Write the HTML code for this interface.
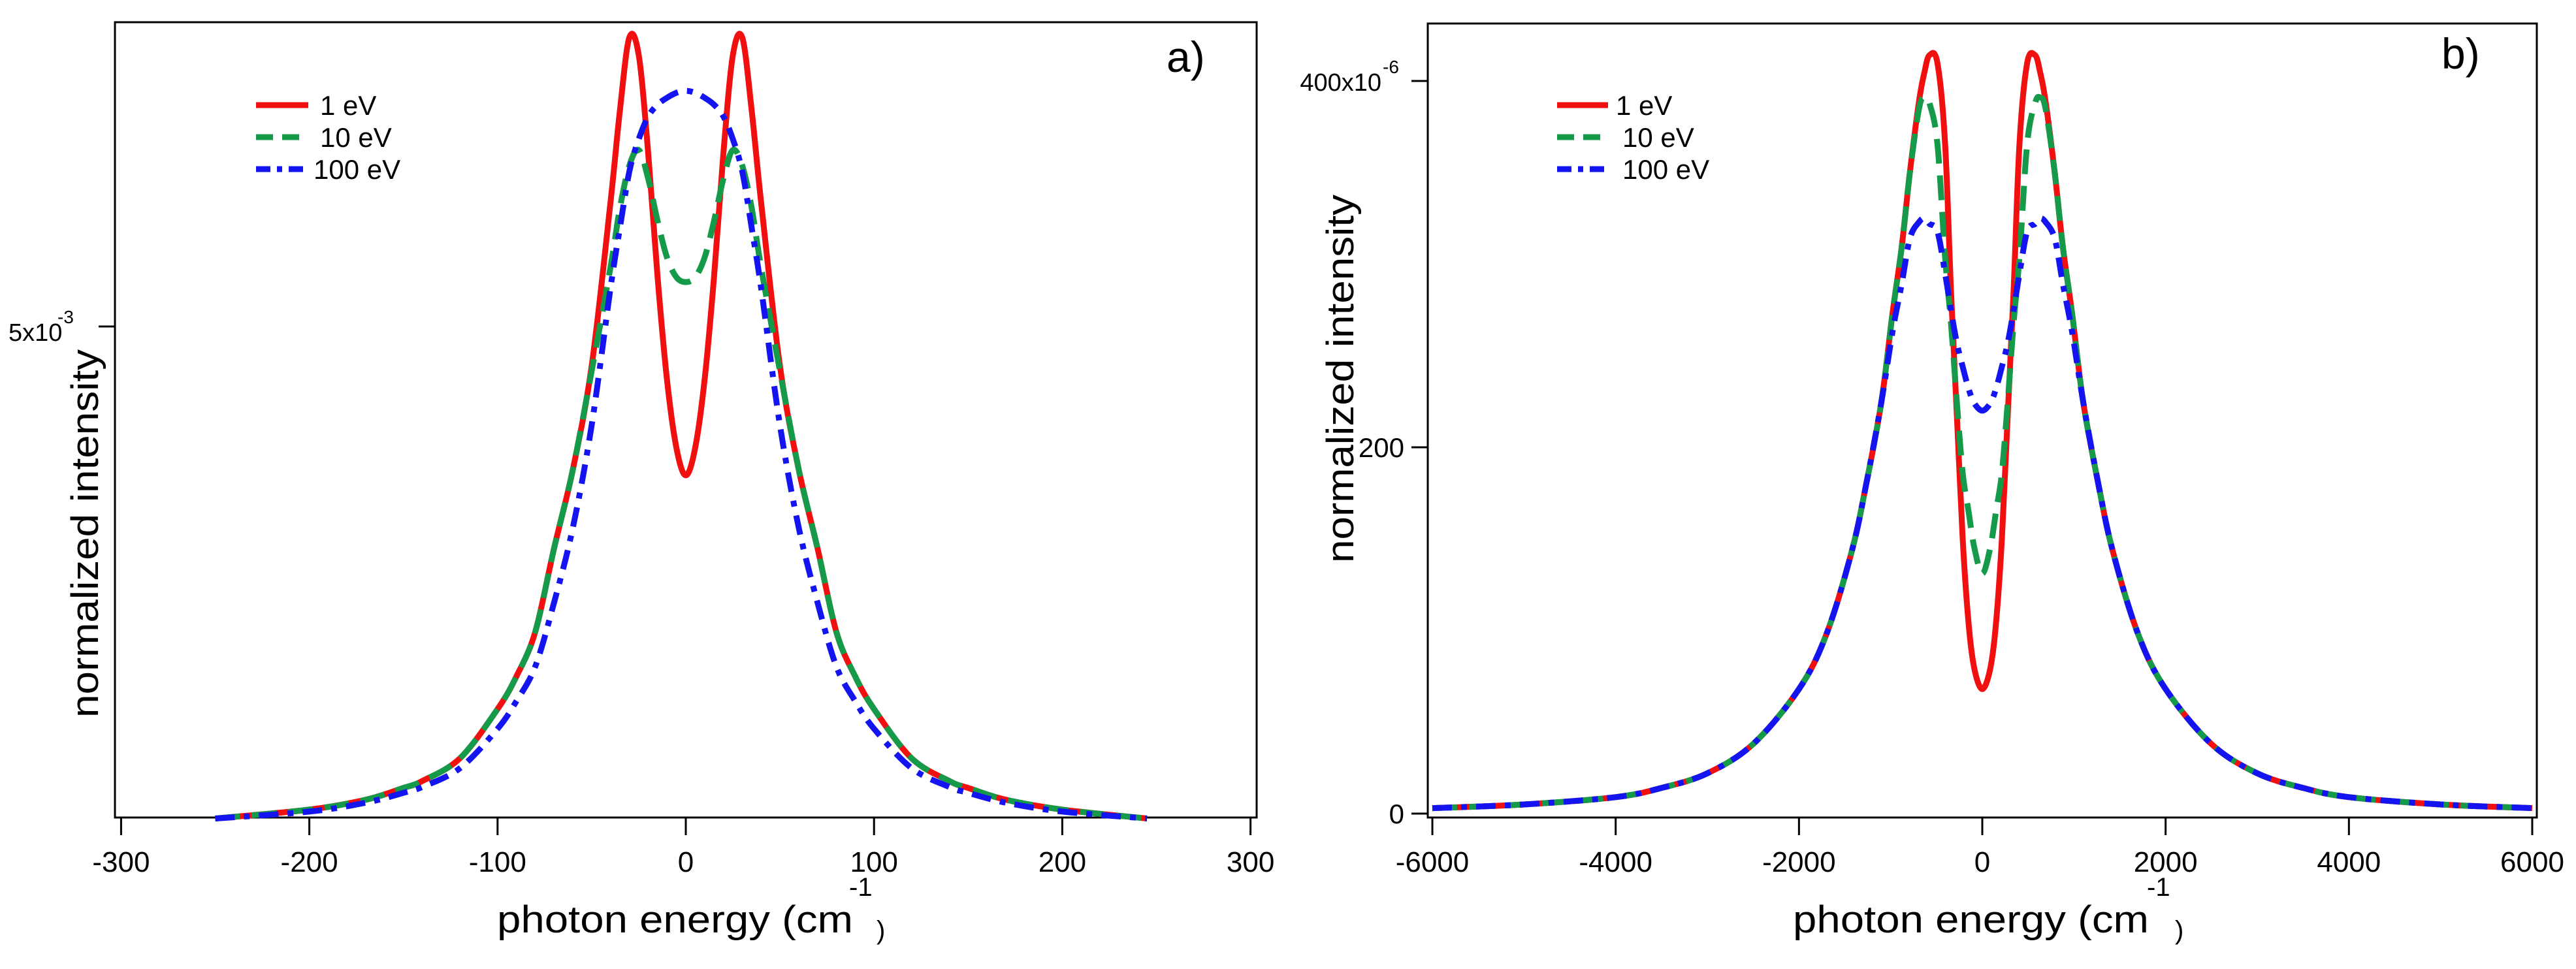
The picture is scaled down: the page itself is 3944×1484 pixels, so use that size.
<!DOCTYPE html>
<html><head><meta charset="utf-8"><style>
html,body{margin:0;padding:0;background:#fff;}
svg{display:block;}
text{font-family:"Liberation Sans",sans-serif;fill:#000;}
</style></head><body>
<svg id="chart" width="3944" height="1484" viewBox="0 0 3944 1484" xmlns="http://www.w3.org/2000/svg">
<g id="pa"></g>
<g id="pb"></g>
</svg>
<script>
// Panel a data (x in cm^-1, y in 1e-3)
const aX = [-250,-200,-170,-150,-140,-120,-100,-90,-80,-70,-60,-50,-40,-35,-30,-25,-20,-15,-10,-5,0,5,10,15,20,25,30,35,40,50,60,70,80,90,100,120,140,150,170,200,245];
const aRed = [0.01,0.1,0.2,0.32,0.39,0.62,1.12,1.45,1.9,2.75,3.55,4.6,6.26,7.19,7.93,7.75,6.76,5.5,4.46,3.77,3.49,3.77,4.46,5.5,6.76,7.75,7.93,7.19,6.26,4.6,3.55,2.75,1.9,1.45,1.12,0.62,0.39,0.32,0.2,0.1,0.01];
const aGreen = [0.01,0.1,0.2,0.32,0.39,0.62,1.12,1.45,1.9,2.75,3.55,4.55,5.6,6.2,6.63,6.79,6.5,6.07,5.7,5.5,5.45,5.5,5.7,6.07,6.5,6.79,6.63,6.2,5.6,4.55,3.55,2.75,1.9,1.45,1.12,0.62,0.39,0.32,0.2,0.1,0.01];
const aBlue = [0.01,0.08,0.17,0.27,0.33,0.52,0.92,1.2,1.55,2.2,2.96,4.0,5.39,6.0,6.57,6.9,7.13,7.25,7.32,7.37,7.39,7.37,7.32,7.25,7.13,6.9,6.57,6.0,5.39,4.0,2.96,2.2,1.55,1.2,0.92,0.52,0.33,0.27,0.17,0.08,0.01];
const aXTicks = [-300,-200,-100,0,100,200,300];
const aXTickLabels = ["-300","-200","-100","0","100","200","300"];
// Panel b data (x in cm^-1, y in 1e-6)
const bX = [-6000,-5000,-4000,-3500,-3000,-2500,-2000,-1700,-1425,-1270,-1100,-980,-880,-790,-690,-630,-577,-490,-406,-342,-278,-214,-150,-86,0,86,150,214,278,342,406,490,577,630,690,790,880,980,1100,1270,1425,1700,2000,2500,3000,3500,4000,5000,6000];
const bRed = [3,5,9,14,22,38,68,98,143,179,225,273,309,350,389,405,414,410,366,286,218,150,104,79,68,79,104,150,218,286,366,410,414,405,389,350,309,273,225,179,143,98,68,38,22,14,9,5,3];
const bGreen = [3,5,9,14,22,38,68,98,143,179,225,273,309,350,385,391,388,366,304,268,225,186,165,145,131,145,165,186,225,268,304,366,388,391,385,350,309,273,225,179,143,98,68,38,22,14,9,5,3];
const bBlue = [3,5,9,14,22,38,68,98,143,179,225,263,289,314,323,325,322,318,295,275,257,244,232,224,220,224,232,244,257,275,295,318,322,325,323,314,289,263,225,179,143,98,68,38,22,14,9,5,3];
const bXTicks = [-6000,-4000,-2000,0,2000,4000,6000];
const bXTickLabels = ["-6000","-4000","-2000","0","2000","4000","6000"];
const bYTicks = [0,200,400];

const NS = "http://www.w3.org/2000/svg";
function mk(parent, tag, attrs, txt){
  const e = document.createElementNS(NS, tag);
  for (const k in attrs) e.setAttribute(k, attrs[k]);
  if (txt !== undefined) e.textContent = txt;
  parent.appendChild(e);
  return e;
}
function spline(xs, ys, fx, fy){
  const p = xs.map((x,i)=>[fx(x), fy(ys[i])]);
  let d = "M"+p[0][0].toFixed(1)+","+p[0][1].toFixed(1);
  for (let i=0;i<p.length-1;i++){
    const p0=p[Math.max(0,i-1)], p1=p[i], p2=p[i+1], p3=p[Math.min(p.length-1,i+2)];
    const c1=[p1[0]+(p2[0]-p0[0])/6, p1[1]+(p2[1]-p0[1])/6];
    const c2=[p2[0]-(p3[0]-p1[0])/6, p2[1]-(p3[1]-p1[1])/6];
    d += "C"+c1[0].toFixed(1)+","+c1[1].toFixed(1)+" "+c2[0].toFixed(1)+","+c2[1].toFixed(1)+" "+p2[0].toFixed(1)+","+p2[1].toFixed(1);
  }
  return d;
}
const styles = {
  red:{stroke:"#f01010", dash:""},
  green:{stroke:"#159a4a", dash:"38 18"},
  blue:{stroke:"#1414f0", dash:"30 14 9 14"}
};

// ---------- Panel a ----------
const A = document.getElementById("pa");
const axA = v => 1050 + v*2.882;
const ayA = v => 1255 - v*151;
let e;
e = mk(A,"rect",{x:176,y:34,width:1748,height:1218,fill:"none",stroke:"#000","stroke-width":3});
 
aXTicks.forEach((t,i)=>{
  e = mk(A,"line",{x1:axA(t),x2:axA(t),y1:1252,y2:1279,stroke:"#000","stroke-width":3});
   
  e = mk(A,"text",{x:axA(t),y:1335,"font-size":44,"text-anchor":"middle"},aXTickLabels[i]);
   
});
e = mk(A,"line",{x1:151,x2:176,y1:ayA(5),y2:ayA(5),stroke:"#000","stroke-width":3});
 
e = mk(A,"text",{x:13,y:522,"font-size":38},"5x10");
 
mk(A,"text",{x:88,y:495,"font-size":28},"-3");
e = mk(A,"text",{x:0,y:0,"font-size":58,"text-anchor":"middle",transform:"translate(150,817) rotate(-90)",textLength:564,lengthAdjust:"spacingAndGlyphs"},"normalized intensity");
 
e = mk(A,"text",{x:761,y:1428,"font-size":58,textLength:545,lengthAdjust:"spacingAndGlyphs"},"photon energy (cm");
 
mk(A,"text",{x:1300,y:1372,"font-size":40},"-1");
mk(A,"text",{x:1342,y:1438,"font-size":40},")");
e = mk(A,"text",{x:1786,y:110,"font-size":66},"a)");
 
[["red",aRed],["green",aGreen],["blue",aBlue]].forEach(([k,ys])=>{
  e = mk(A,"path",{d:spline(aX,ys,axA,ayA),fill:"none",stroke:styles[k].stroke,"stroke-width":9,"stroke-dasharray":styles[k].dash,"stroke-linejoin":"round"});
   
});
const legNames = ["1 eV","10 eV","100 eV"];
["red","green","blue"].forEach((k,i)=>{
  const y = 161 + i*49;
  e = mk(A,"line",{x1:392,x2:472,y1:y,y2:y,stroke:styles[k].stroke,"stroke-width":9,"stroke-dasharray":k==="red"?"":(k==="green"?"26 14":"22 10 8 10")});
   
  e = mk(A,"text",{x:k==="blue"?480:490,y:y+15,"font-size":42},legNames[i]);
   
});

// ---------- Panel b ----------
const B = document.getElementById("pb");
const axB = v => 3035 + v*0.14033;
const ayB = v => 1246 - v*2.805;
e = mk(B,"rect",{x:2186,y:36,width:1698,height:1216,fill:"none",stroke:"#000","stroke-width":3});
 
bXTicks.forEach((t,i)=>{
  e = mk(B,"line",{x1:axB(t),x2:axB(t),y1:1252,y2:1279,stroke:"#000","stroke-width":3});
   
  e = mk(B,"text",{x:axB(t),y:1335,"font-size":44,"text-anchor":"middle"},bXTickLabels[i]);
   
});
bYTicks.forEach(t=>{
  e = mk(B,"line",{x1:2161,x2:2186,y1:ayB(t),y2:ayB(t),stroke:"#000","stroke-width":3});
   
});
e = mk(B,"text",{x:2150,y:ayB(0)+15,"font-size":42,"text-anchor":"end"},"0");
 
e = mk(B,"text",{x:2150,y:ayB(200)+15,"font-size":42,"text-anchor":"end"},"200");
 
e = mk(B,"text",{x:2115,y:ayB(400)+15,"font-size":38,"text-anchor":"end"},"400x10");
 
mk(B,"text",{x:2117,y:ayB(400)-12,"font-size":28},"-6");
e = mk(B,"text",{x:0,y:0,"font-size":58,"text-anchor":"middle",transform:"translate(2072,580) rotate(-90)",textLength:564,lengthAdjust:"spacingAndGlyphs"},"normalized intensity");
 
e = mk(B,"text",{x:2745,y:1428,"font-size":58,textLength:545,lengthAdjust:"spacingAndGlyphs"},"photon energy (cm");
 
mk(B,"text",{x:3287,y:1372,"font-size":40},"-1");
mk(B,"text",{x:3330,y:1438,"font-size":40},")");
e = mk(B,"text",{x:3738,y:105,"font-size":66},"b)");
 
[["red",bRed],["green",bGreen],["blue",bBlue]].forEach(([k,ys])=>{
  e = mk(B,"path",{d:spline(bX,ys,axB,ayB),fill:"none",stroke:styles[k].stroke,"stroke-width":9,"stroke-dasharray":styles[k].dash,"stroke-linejoin":"round"});
   
});
["red","green","blue"].forEach((k,i)=>{
  const y = 161 + i*49;
  e = mk(B,"line",{x1:2384,x2:2462,y1:y,y2:y,stroke:styles[k].stroke,"stroke-width":9,"stroke-dasharray":k==="red"?"":(k==="green"?"26 14":"22 10 8 10")});
   
  e = mk(B,"text",{x:k==="red"?2474:2484,y:y+15,"font-size":42},legNames[i]);
   
});
</script>
</body></html>
